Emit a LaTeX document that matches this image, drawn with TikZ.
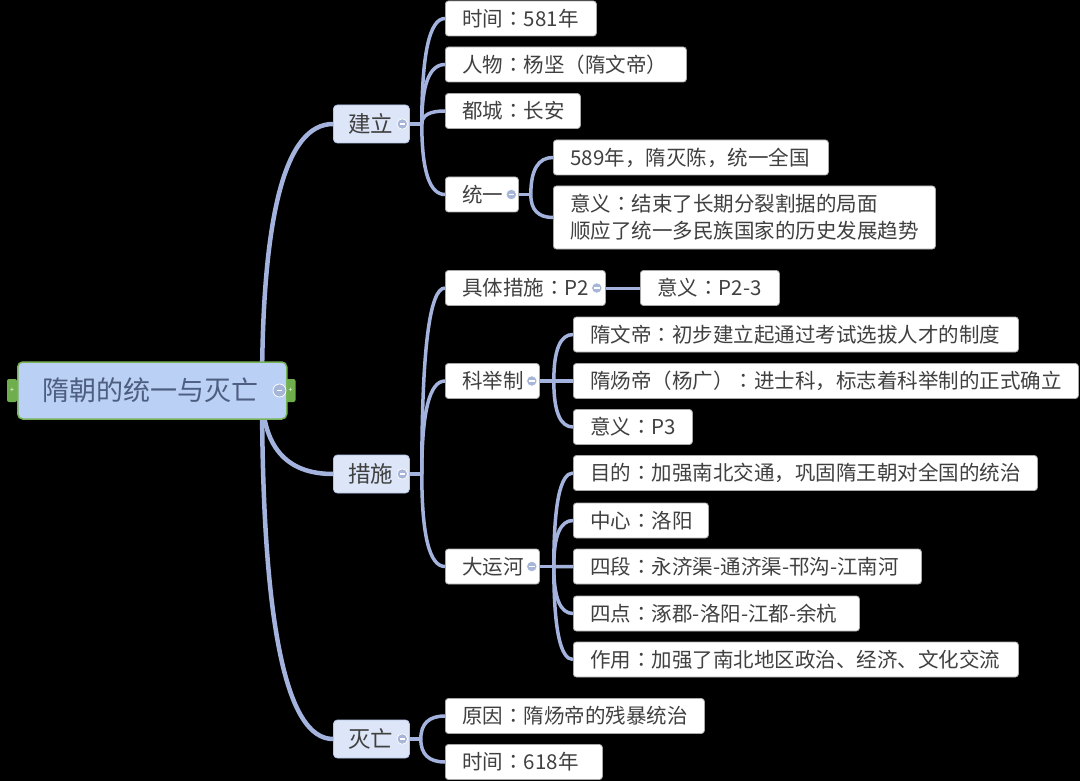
\documentclass[tikz,border=0pt]{standalone}
\usepackage{fontspec}
\setmainfont{Noto Sans CJK SC}
\newfontfamily\tcfont{Noto Sans CJK TC}
\usetikzlibrary{calc}
\pgfdeclarelayer{back}
\pgfdeclarelayer{bg}
\pgfsetlayers{back,bg,main}
\definecolor{conncol}{HTML}{A4B3DD}
\definecolor{rootfill}{HTML}{BAD0F5}
\definecolor{rootborder}{HTML}{78B35A}
\definecolor{roottext}{HTML}{4D5E80}
\definecolor{lonefill}{HTML}{DCE6F8}
\definecolor{loneborder}{HTML}{B3C4E6}
\definecolor{leafborder}{HTML}{A8A8A8}
\definecolor{txt}{HTML}{404040}
\definecolor{minuscol}{HTML}{A7B5D8}
\definecolor{tabgreen}{HTML}{6FAE4C}
\newcommand\mytb[2]{\makebox[#1pt][l]{#2}}
\newcommand\cln{{\tcfont ：}}
\begin{document}
\begin{tikzpicture}[x=1pt,y=-1pt,
 leaf/.style={draw=leafborder,fill=white,rounded corners=3pt,line width=0.8pt,anchor=west,
   inner xsep=17pt,inner ysep=0pt,minimum height=35pt,font=\fontsize{20.5}{27}\selectfont,text=txt},
 lone/.style={draw=loneborder,fill=lonefill,rounded corners=4pt,line width=0.8pt,anchor=west,
   inner xsep=15pt,inner ysep=0pt,minimum height=38pt,font=\fontsize{22.5}{27}\selectfont,text=txt},
 rootbox/.style={draw=rootborder,fill=rootfill,rounded corners=5pt,line width=1.5pt,anchor=west,
   inner xsep=25pt,inner ysep=0pt,minimum height=57pt,font=\fontsize{27}{32}\selectfont,text=roottext},
 conn/.style={draw=conncol,line width=3.5pt},
 rconn/.style={draw=conncol,line width=4.5pt},
 minus/.style={circle,fill=minuscol,draw=white,line width=0.7pt,minimum size=10.5pt,inner sep=0pt,
   path picture={\draw[white,line width=1.3pt] ([xshift=-2.8pt]path picture bounding box.center) -- ([xshift=2.8pt]path picture bounding box.center);}},
 tab/.style={fill=tabgreen,rounded corners=2pt,minimum width=10pt,minimum height=23pt,inner sep=0pt,
   font=\fontsize{7}{7}\selectfont,text=white}]
\begin{pgfonlayer}{back}
\fill[black] (0,0) rectangle (1080,781);
\end{pgfonlayer}
\useasboundingbox (0,0) rectangle (1080,781);

% tabs
\node[tab] (tabl) at (12,390.5) {+};
\node[tab] (tabr) at (290.5,390.5) {+};

% root and level 1
\node[rootbox] (root) at (17,390.5) {\mytb{219}{隋朝的统一与灭亡}};
\node[lone] (jl) at (333,124) {\mytb{46}{建立}};
\node[lone] (cs) at (333,474) {\mytb{46}{措施}};
\node[lone] (mw) at (333,739) {\mytb{46}{灭亡}};

% 建立
\node[leaf] (a1) at (445,18.5) {\mytb{117}{时间\cln 581年}};
\node[leaf] (a2) at (445,64.5) {\mytb{207}{人物\cln 杨坚（隋文帝）}};
\node[leaf] (a3) at (445,111) {\mytb{101}{都城\cln 长安}};
\node[leaf] (a4) at (445,194.5) {\mytb{39}{统一}};
\node[leaf] (a41) at (553,157.5) {\mytb{241}{589年，隋灭陈，统一全国}};
\node[leaf,minimum height=63pt] (a42) at (553,217.5) {\parbox[c]{348pt}{\raggedright 意义\cln 结束了长期分裂割据的局面\\顺应了统一多民族国家的历史发展趋势}};

% 措施
\node[leaf] (b1) at (445,288) {\mytb{126}{具体措施\cln P2}};
\node[leaf] (b1a) at (640,288) {\mytb{105}{意义\cln P2-3}};
\node[leaf] (b2) at (445,381) {\mytb{60}{科举制}};
\node[leaf] (b21) at (573,334.5) {\mytb{411}{隋文帝\cln 初步建立起通过考试选拔人才的制度}};
\node[leaf] (b22) at (573,381) {\mytb{471}{隋炀帝（杨广）\cln 进士科，标志着科举制的正式确立}};
\node[leaf] (b23) at (573,427) {\mytb{85}{意义\cln P3}};
\node[leaf] (b3) at (445,566.5) {\mytb{60}{大运河}};
\node[leaf] (b31) at (573,473) {\mytb{430}{目的\cln 加强南北交通，巩固隋王朝对全国的统治}};
\node[leaf] (b32) at (573,520.5) {\mytb{101}{中心\cln 洛阳}};
\node[leaf] (b33) at (573,566.5) {\mytb{314}{四段\cln 永济渠-通济渠-邗沟-江南河}};
\node[leaf] (b34) at (573,613.5) {\mytb{252}{四点\cln 涿郡-洛阳-江都-余杭}};
\node[leaf] (b35) at (573,659.5) {\mytb{411}{作用\cln 加强了南北地区政治、经济、文化交流}};

% 灭亡
\node[leaf] (c1) at (445,716) {\mytb{225}{原因\cln 隋炀帝的残暴统治}};
\node[leaf] (c2) at (445,762) {\mytb{123}{时间\cln 618年}};

% minus markers
\node[minus,minimum size=13pt] (mroot) at ($(root.east)+(-8,0)$) {};
\node[minus] (mjl) at ($(jl.east)+(-7.5,0)$) {};
\node[minus] (mcs) at ($(cs.east)+(-7.5,0)$) {};
\node[minus] (mmw) at ($(mw.east)+(-7.5,0)$) {};
\node[minus] (ma4) at ($(a4.east)+(-7.5,0)$) {};
\node[minus] (mb1) at ($(b1.east)+(-9,0)$) {};
\node[minus] (mb2) at ($(b2.east)+(-8,0)$) {};
\node[minus] (mb3) at ($(b3.east)+(-8,0)$) {};

\begin{pgfonlayer}{bg}
 \coordinate (R) at (262,390.5);
 \foreach \t in {jl,cs,mw}
   \draw[rconn] (R) .. controls ($(R)!0.667!(R |- \t.west)$) and ($(\t.west)!0.667!(R |- \t.west)$) .. (\t.west);
 % 建立
 \coordinate (J1) at ($(jl.east)+(12,0)$);
 \draw[conn] (jl.east) -- (J1);
 \foreach \t in {a1,a2,a3,a4}
   \draw[conn] (J1) .. controls ($(J1)!0.667!(J1 |- \t.west)$) and ($(\t.west)!0.667!(J1 |- \t.west)$) .. (\t.west);
 \coordinate (J4) at ($(a4.east)+(12,0)$);
 \draw[conn] (a4.east) -- (J4);
 \foreach \t in {a41,a42}
   \draw[conn] (J4) .. controls ($(J4)!0.667!(J4 |- \t.west)$) and ($(\t.west)!0.667!(J4 |- \t.west)$) .. (\t.west);
 % 措施
 \coordinate (J2) at ($(cs.east)+(12,0)$);
 \draw[conn] (cs.east) -- (J2);
 \foreach \t in {b1,b2,b3}
   \draw[conn] (J2) .. controls ($(J2)!0.667!(J2 |- \t.west)$) and ($(\t.west)!0.667!(J2 |- \t.west)$) .. (\t.west);
 \draw[conn,line width=3pt] (b1.east) -- (b1a.west);
 \coordinate (J5) at ($(b2.east)+(14,0)$);
 \draw[conn] (b2.east) -- (J5);
 \foreach \t in {b21,b22,b23}
   \draw[conn] (J5) .. controls ($(J5)!0.667!(J5 |- \t.west)$) and ($(\t.west)!0.667!(J5 |- \t.west)$) .. (\t.west);
 \coordinate (J6) at ($(b3.east)+(14,0)$);
 \draw[conn] (b3.east) -- (J6);
 \foreach \t in {b31,b32,b33,b34,b35}
   \draw[conn] (J6) .. controls ($(J6)!0.667!(J6 |- \t.west)$) and ($(\t.west)!0.667!(J6 |- \t.west)$) .. (\t.west);
 % 灭亡
 \coordinate (J3) at ($(mw.east)+(11,0)$);
 \draw[conn] (mw.east) -- (J3);
 \foreach \t in {c1,c2}
   \draw[conn] (J3) .. controls ($(J3)!0.667!(J3 |- \t.west)$) and ($(\t.west)!0.667!(J3 |- \t.west)$) .. (\t.west);
\end{pgfonlayer}
\end{tikzpicture}
\end{document}
